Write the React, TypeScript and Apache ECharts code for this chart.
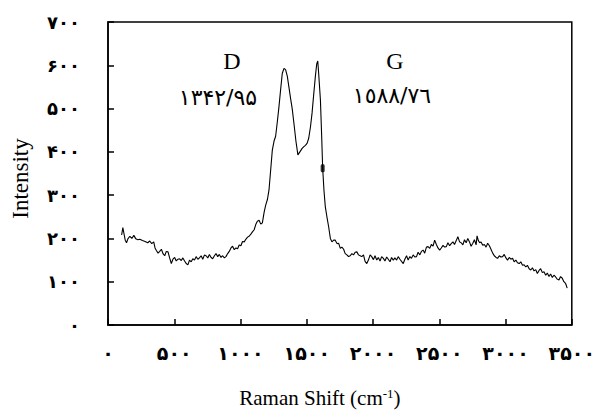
import React, { useEffect, useRef } from "react";
import * as echarts from "echarts";

// Raman shift (cm-1) and intensity
const ramanShift = [
  103, 112, 120, 130, 140, 150, 165, 180, 195, 210, 225, 240, 260, 280, 300, 315, 330, 345, 355, 365,
  378, 390, 403, 415, 428, 440, 453, 465, 478, 490, 503, 515, 528, 540, 553, 565, 578, 590, 603, 615,
  628, 640, 653, 665, 678, 690, 703, 715, 728, 740, 753, 765, 778, 790, 803, 815, 828, 840, 853, 865,
  878, 890, 903, 915, 928, 940, 953, 965, 978, 990, 1003, 1015, 1028, 1040, 1053, 1065, 1078, 1090, 1103, 1115,
  1128, 1140, 1153, 1165, 1178, 1190, 1203, 1215, 1228, 1240, 1253, 1265, 1278, 1290, 1303, 1315, 1328, 1340, 1353, 1365,
  1378, 1390, 1403, 1418, 1433, 1448, 1465, 1478, 1490, 1503, 1515, 1528, 1540, 1553, 1565, 1575, 1583, 1590, 1603, 1612,
  1620, 1630, 1640, 1652, 1665, 1678, 1690, 1703, 1715, 1728, 1740, 1753, 1765, 1778, 1790, 1803, 1815, 1828, 1840, 1853,
  1865, 1878, 1890, 1903, 1915, 1928, 1940, 1953, 1965, 1978, 1990, 2003, 2015, 2028, 2040, 2053, 2065, 2078, 2090, 2103,
  2115, 2128, 2140, 2153, 2165, 2178, 2190, 2203, 2215, 2228, 2240, 2253, 2265, 2278, 2290, 2303, 2315, 2328, 2340, 2353,
  2365, 2378, 2390, 2403, 2415, 2428, 2440, 2453, 2465, 2478, 2490, 2503, 2515, 2528, 2540, 2553, 2565, 2578, 2590, 2603,
  2615, 2628, 2640, 2653, 2665, 2678, 2690, 2703, 2715, 2728, 2740, 2753, 2765, 2778, 2785, 2795, 2805, 2815, 2828, 2840,
  2853, 2865, 2878, 2890, 2903, 2915, 2928, 2940, 2953, 2965, 2978, 2990, 3003, 3015, 3028, 3040, 3053, 3065, 3078, 3090,
  3103, 3115, 3128, 3140, 3153, 3165, 3178, 3190, 3203, 3215, 3228, 3240, 3253, 3265, 3278, 3290, 3303, 3315, 3328, 3340,
  3353, 3365, 3378, 3390, 3403, 3415, 3428, 3440, 3453, 3460, 3465,
];
const intensity = [
  208, 225, 212, 196, 190, 199, 205, 200, 207, 199, 197, 198, 195, 193, 190, 194, 188, 192, 178, 172,
  166, 170, 175, 165, 160, 170, 169, 155, 142, 152, 156, 148, 152, 153, 149, 155, 148, 142, 139, 150,
  146, 153, 150, 158, 152, 155, 160, 152, 162, 160, 155, 163, 156, 153, 160, 165, 158, 163, 156, 160,
  155, 158, 165, 170, 178, 182, 174, 178, 176, 185, 183, 193, 192, 198, 203, 205, 210, 215, 220, 232,
  240, 242, 233, 236, 260, 277, 290, 312, 360, 404, 425, 436, 470, 504, 545, 581, 593, 590, 575, 550,
  523, 500, 466, 425, 393, 400, 408, 412, 415, 420, 432, 458, 490, 535, 575, 603, 610, 580, 520, 440,
  362, 310, 273, 250, 227, 200, 192, 196, 196, 188, 189, 177, 180, 175, 165, 162, 158, 160, 165, 162,
  168, 169, 162, 160, 158, 162, 147, 142, 150, 162, 158, 151, 160, 150, 156, 148, 158, 154, 148, 157,
  152, 146, 156, 150, 155, 150, 158, 152, 147, 142, 152, 160, 150, 158, 154, 162, 157, 158, 168, 162,
  170, 173, 166, 180, 181, 177, 186, 182, 196, 186, 178, 173, 178, 184, 180, 181, 190, 183, 188, 192,
  186, 195, 204, 192, 190, 185, 197, 190, 200, 192, 182, 189, 197, 185, 206, 195, 190, 192, 184, 186,
  180, 189, 183, 175, 166, 160, 156, 154, 160, 157, 158, 163, 155, 150, 156, 152, 154, 146, 150, 144,
  142, 146, 138, 139, 134, 138, 130, 127, 132, 125, 128, 119, 126, 130, 121, 123, 115, 120, 112, 118,
  110, 115, 111, 106, 104, 112, 108, 100, 96, 90, 85,
];
// small filled marker on the G band flank
const markerPoint = [1620, 362];

const xTickLabels = ["۰", "۵۰۰", "۱۰۰۰", "۱۵۰۰", "۲۰۰۰", "۲۵۰۰", "۳۰۰۰", "۳۵۰۰"];
const yTickLabels = ["۰", "۱۰۰", "۲۰۰", "۳۰۰", "۴۰۰", "۵۰۰", "۶۰۰", "۷۰۰"];

const dLabel = "D";
const dValue = "۱۳۴۲/۹۵";
const gLabel = "G";
const gValue = "١٥٨٨/٧٦";

export default function App() {
  const ref = useRef<HTMLDivElement>(null);
  useEffect(() => {
    if (!ref.current) return;
    const chart = echarts.init(ref.current, undefined, { renderer: "svg" });
    const serif = "'Liberation Serif', 'Times New Roman', serif";
    const digitFont = "'DejaVu Sans', sans-serif";
    const lineData = ramanShift.map((x, i) => [x, intensity[i]]);
    chart.setOption({
      animation: false,
      backgroundColor: "#fff",
      grid: {
        left: 108,
        right: 25,
        top: 22,
        bottom: 89,
        show: true,
        borderColor: "#000",
        borderWidth: 1.5,
      },
      xAxis: {
        type: "value",
        min: 0,
        max: 3500,
        interval: 500,
        axisLine: { show: true, lineStyle: { color: "#000", width: 1.5 } },
        axisTick: { show: true, inside: true, length: 6, lineStyle: { color: "#000", width: 1.5 } },
        splitLine: { show: false },
        axisLabel: {
          formatter: (v: number) => xTickLabels[Math.round(v / 500)] ?? "",
          fontFamily: digitFont,
          fontWeight: "bold",
          fontSize: 19,
          color: "#000",
          margin: 18,
          showMaxLabel: true,
          showMinLabel: true,
        },
        name: "Raman Shift (cm{sup|-1})",
        nameLocation: "middle",
        nameGap: 62,
        nameTextStyle: {
          fontFamily: serif,
          fontSize: 21,
          color: "#000",
          padding: [0, 40, 0, 0],
          rich: { sup: { fontFamily: serif, fontSize: 13, color: "#000", verticalAlign: "top", padding: [0, 0, 8, 0] } },
        },
      },
      yAxis: {
        type: "value",
        min: 0,
        max: 700,
        interval: 100,
        axisLine: { show: true, lineStyle: { color: "#000", width: 1.5 } },
        axisTick: { show: true, inside: true, length: 6, lineStyle: { color: "#000", width: 1.5 } },
        splitLine: { show: false },
        axisLabel: {
          formatter: (v: number) => yTickLabels[Math.round(v / 100)] ?? "",
          fontFamily: digitFont,
          fontWeight: "bold",
          fontSize: 18,
          color: "#000",
          margin: 28,
        },
        name: "Intensity",
        nameLocation: "middle",
        nameRotate: 90,
        nameGap: 76,
        nameTextStyle: { fontFamily: serif, fontSize: 23, color: "#000", padding: [0, 10, 0, 0] },
      },
      series: [
        {
          type: "line",
          data: lineData,
          symbol: "none",
          lineStyle: { color: "#000", width: 1.1 },
          silent: true,
        },
        {
          type: "scatter",
          data: [markerPoint],
          symbol: "roundRect",
          symbolSize: [4, 8],
          itemStyle: { color: "#000" },
        },
      ],
      graphic: [
        { type: "text", x: 232, y: 61, style: { text: dLabel, font: `24px ${serif}`, fill: "#000", align: "center", verticalAlign: "middle" } },
        { type: "text", x: 218, y: 97, style: { text: dValue, font: `22px ${digitFont}`, fill: "#000", align: "center", verticalAlign: "middle" } },
        { type: "text", x: 395, y: 61, style: { text: gLabel, font: `24px ${serif}`, fill: "#000", align: "center", verticalAlign: "middle" } },
        { type: "text", x: 392, y: 95, style: { text: gValue, font: `22px ${digitFont}`, fill: "#000", align: "center", verticalAlign: "middle" } },
      ],
    });
    return () => chart.dispose();
  }, []);
  return <div ref={ref} style={{ position: "absolute", left: 0, top: 0, width: 598, height: 414 }} />;
}
